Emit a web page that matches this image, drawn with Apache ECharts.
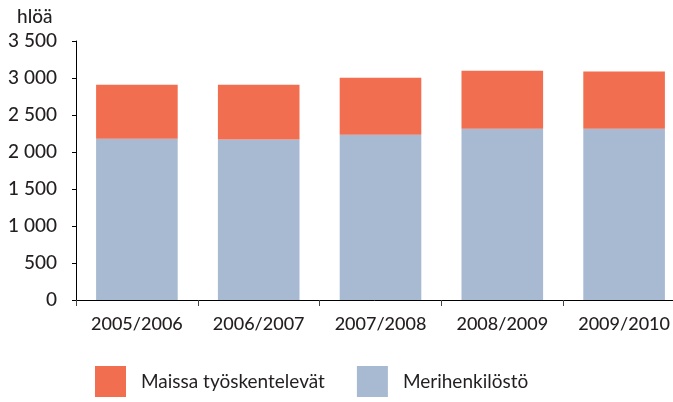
<!DOCTYPE html>
<html>
<head>
<meta charset="utf-8">
<script src="https://cdn.jsdelivr.net/npm/echarts@6/dist/echarts.min.js"></script>
<style>
  html, body { margin: 0; padding: 0; background: #fff; }
  #chart { width: 673px; height: 402px; }
</style>
</head>
<body>
<div id="chart"></div>
<script>
// lukuvuodet
const years = ['2005/2006', '2006/2007', '2007/2008', '2008/2009', '2009/2010'];
// henkilöstö (hlöä), luettu kuvasta
const merihenkilosto = [2180, 2170, 2233, 2314, 2314];
const maissa = [729, 740, 771, 784, 775];
const yTicks = [0, 500, 1000, 1500, 2000, 2500, 3000, 3500];

const FONT = 'Lato';
const INK = '#231f20';

const chart = echarts.init(document.getElementById('chart'));

chart.setOption({
  animation: false,
  textStyle: { fontFamily: FONT, color: INK },
  graphic: [{
    type: 'text',
    left: 17,
    top: 7,
    style: { text: 'hlöä', font: '500 19px ' + FONT, fill: INK }
  }],
  legend: {
    left: 95,
    top: 366,
    padding: 0,
    itemWidth: 31,
    itemHeight: 31,
    itemGap: 32,
    icon: 'rect',
    data: ['Maissa työskentelevät', 'Merihenkilöstö'],
    textStyle: { fontSize: 19, color: INK, padding: [0, 0, 0, 10] }
  },
  grid: { left: 76, right: -12, top: 41, bottom: 102, outerBoundsMode: 'none' },
  xAxis: {
    type: 'category',
    data: years,
    axisLine: { lineStyle: { color: '#000', width: 1 } },
    axisTick: { show: true, length: 6, lineStyle: { color: '#444' } },
    axisLabel: { fontSize: 18, fontWeight: 500, color: INK, margin: 15 }
  },
  yAxis: {
    type: 'value',
    min: yTicks[0],
    max: yTicks[yTicks.length - 1],
    interval: 500,
    axisLine: { show: true, lineStyle: { color: '#000', width: 1 } },
    axisTick: { show: true, length: 4, lineStyle: { color: '#000' } },
    splitLine: { show: false },
    axisLabel: {
      fontSize: 19,
      fontWeight: 500,
      color: INK,
      margin: 19,
      formatter: v => String(v).replace(/\B(?=(\d{3})+(?!\d))/g, ' ')
    }
  },
  series: [
    {
      name: 'Merihenkilöstö',
      type: 'bar',
      stack: 'total',
      barWidth: '67%',
      itemStyle: { color: '#a7bad2' },
      data: merihenkilosto
    },
    {
      name: 'Maissa työskentelevät',
      type: 'bar',
      stack: 'total',
      itemStyle: { color: '#f26e50' },
      data: maissa
    }
  ]
});
</script>
</body>
</html>
